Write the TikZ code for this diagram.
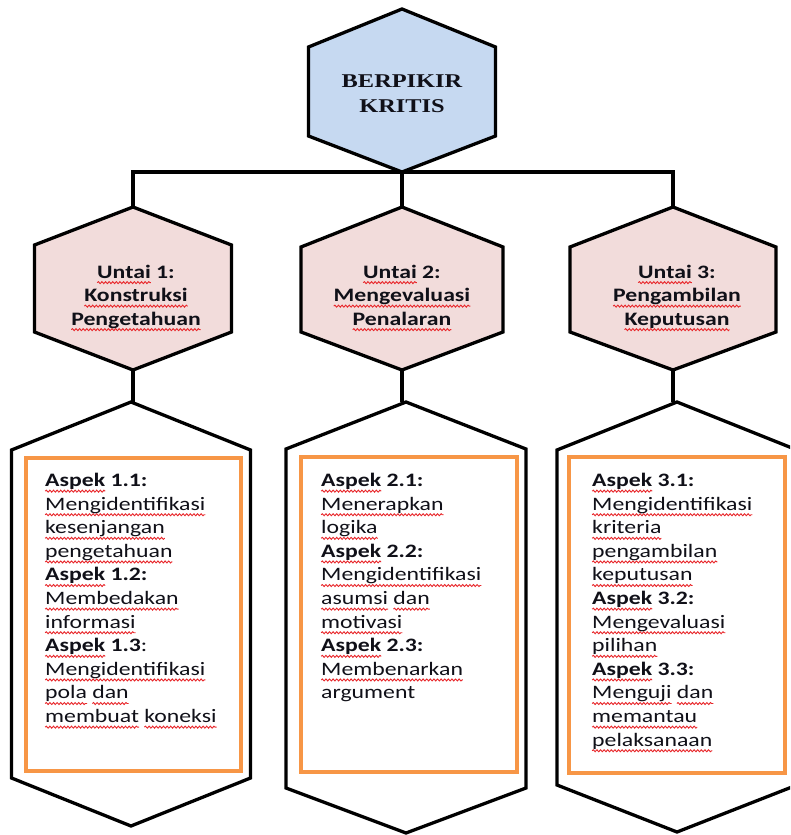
\documentclass[tikz,border=0pt]{standalone}
\usepackage{fontspec}
\usetikzlibrary{decorations.pathmorphing}
\newfontfamily\bodyfont[FakeStretch=1.25]{Carlito}
\newfontfamily\titlefont[FakeStretch=1.25]{Liberation Serif}

\definecolor{hexblue}{HTML}{C6D9F1}
\definecolor{hexpink}{HTML}{F2DCDB}
\definecolor{boxorange}{HTML}{F79646}
\definecolor{squigred}{HTML}{E8262A}
\definecolor{ink}{HTML}{101018}

% wavy red underline (spell-check style)
\newsavebox\squigbox
\newlength\squiglen
\newcommand\squig[1]{%
  \sbox\squigbox{#1}\setlength\squiglen{\wd\squigbox}%
  \rlap{\tikz[overlay, x=1pt, y=1pt]\draw[squigred, line width=0.9pt,
     decorate, decoration={snake, amplitude=1pt, segment length=3.6pt}]
     (0,-4.6) -- (\squiglen,-4.6);}%
  \usebox\squigbox}

% outline of a hexagon with pointed top and bottom, built on a frame node
\newcommand\hexoutline[3]{(#1.north) -- ([yshift=-#2]#1.north east) -- ([yshift=#3]#1.south east) -- (#1.south) -- ([yshift=#3]#1.south west) -- ([yshift=-#2]#1.north west) -- cycle}

\tikzset{
  hexframe/.style={rectangle, inner sep=0pt, outer sep=0pt, draw=none},
  hexline/.style={draw=black, line width=3.3pt, line join=miter},
  conn/.style={draw=black, line width=3.3pt},
  aspectbox/.style={rectangle, inner sep=0pt, draw=boxorange, line width=3.2pt},
  titletext/.style={font=\titlefont\bfseries\fontsize{19.5}{24.5}\selectfont, text=ink, align=center, inner sep=0pt, anchor=north},
  untaitext/.style={font=\bodyfont\bfseries\fontsize{19}{23.5}\selectfont, text=ink, align=center, inner sep=0pt, anchor=north},
  aspecttext/.style={font=\bodyfont\fontsize{19}{23.6}\selectfont, text=ink, align=left, inner sep=0pt, anchor=north west},
}

\begin{document}
\begin{tikzpicture}[x=1pt, y=-1pt]
\useasboundingbox (0,0) rectangle (790,835);
\clip (0,0) rectangle (790,835);

% frames of the hexagons
\node[hexframe, minimum width=187pt, minimum height=163pt] (top) at (402,90.5) {};
\node[hexframe, minimum width=197pt, minimum height=163pt] (u1) at (133,288.5) {};
\node[hexframe, minimum width=202pt, minimum height=163pt] (u2) at (402,288.5) {};
\node[hexframe, minimum width=206pt, minimum height=163pt] (u3) at (673,288.5) {};
\node[hexframe, minimum width=239pt, minimum height=424pt] (a1) at (131,614) {};
\node[hexframe, minimum width=240pt, minimum height=431pt] (a2) at (406,617.5) {};
\node[hexframe, minimum width=240pt, minimum height=430pt] (a3) at (677,617) {};

% connectors
\draw[conn] (u1.north) |- (top.south) -| (u3.north);
\draw[conn] (top.south) -- (u2.north);
\draw[conn] (u1.south) -- (u1.south |- a1.north);
\draw[conn] (u2.south) -- (u2.south |- a2.north);
\draw[conn] (u3.south) -- (u3.south |- a3.north);

% hexagons
\draw[hexline, fill=hexblue] \hexoutline{top}{38pt}{36pt};
\draw[hexline, fill=hexpink] \hexoutline{u1}{38pt}{38pt};
\draw[hexline, fill=hexpink] \hexoutline{u2}{40pt}{38pt};
\draw[hexline, fill=hexpink] \hexoutline{u3}{40pt}{38pt};
\draw[hexline, fill=white] \hexoutline{a1}{48pt}{48pt};
\draw[hexline, fill=white] \hexoutline{a2}{47pt}{45pt};
\draw[hexline, fill=white] \hexoutline{a3}{48pt}{47pt};

% orange frames
\node[aspectbox, minimum width=215pt, minimum height=313pt] (r1) at (133.5,614.5) {};
\node[aspectbox, minimum width=216pt, minimum height=315pt] (r2) at (409,614.5) {};
\node[aspectbox, minimum width=216pt, minimum height=316pt] (r3) at (677,615) {};

% labels
\node[titletext] (toplabel) at (402,75) {BERPIKIR\\KRITIS};

\node[untaitext] (u1label) at (136,264.5) {\squig{Untai} 1:\\\squig{Konstruksi}\\\squig{Pengetahuan}};
\node[untaitext] (u2label) at (402,264.5) {\squig{Untai} 2:\\\squig{Mengevaluasi}\\\squig{Penalaran}};
\node[untaitext] (u3label) at (677,264.5) {\squig{Untai} 3:\\\squig{Pengambilan}\\\squig{Keputusan}};

\node[aspecttext] (t1) at (45,473) {%
\textbf{\squig{Aspek} 1.1:}\\
\squig{Mengidentifikasi}\\
\squig{kesenjangan}\\
\squig{pengetahuan}\\
\textbf{\squig{Aspek} 1.2:}\\
\squig{Membedakan}\\
\squig{informasi}\\
\textbf{\squig{Aspek} 1.3}:\\
\squig{Mengidentifikasi}\\
\squig{pola} \squig{dan}\\
\squig{membuat} \squig{koneksi}};

\node[aspecttext] (t2) at (321,473) {%
\textbf{\squig{Aspek} 2.1:}\\
\squig{Menerapkan}\\
\squig{logika}\\
\textbf{\squig{Aspek} 2.2:}\\
\squig{Mengidentifikasi}\\
\squig{asumsi} \squig{dan}\\
\squig{motivasi}\\
\textbf{\squig{Aspek} 2.3:}\\
\squig{Membenarkan}\\
argument};

\node[aspecttext] (t3) at (592,473) {%
\textbf{\squig{Aspek} 3.1:}\\
\squig{Mengidentifikasi}\\
\squig{kriteria}\\
\squig{pengambilan}\\
\squig{keputusan}\\
\textbf{\squig{Aspek} 3.2:}\\
\squig{Mengevaluasi}\\
\squig{pilihan}\\
\textbf{\squig{Aspek} 3.3:}\\
\squig{Menguji} \squig{dan}\\
\squig{memantau}\\
\squig{pelaksanaan}};
\end{tikzpicture}
\end{document}
